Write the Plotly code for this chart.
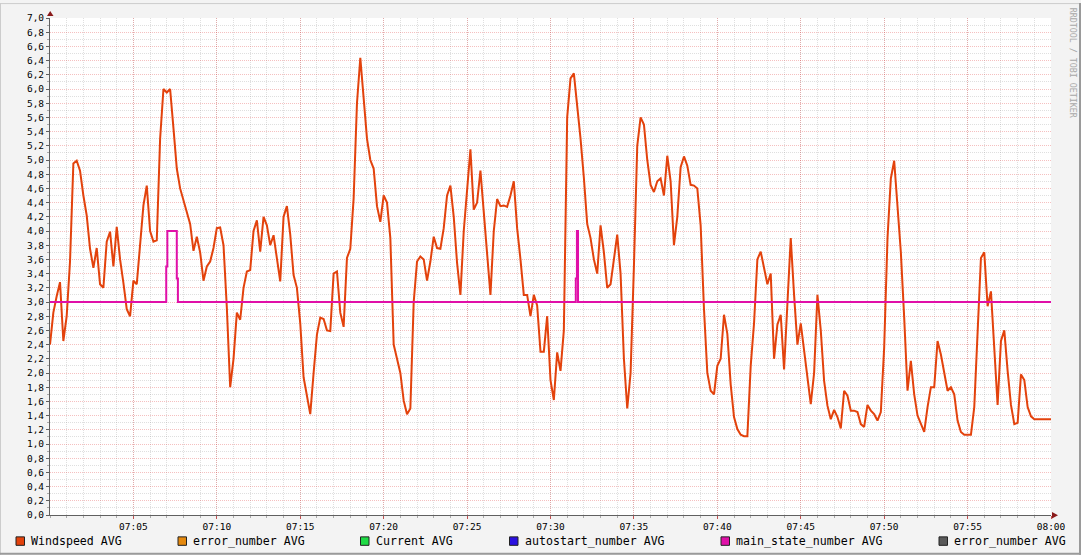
import pandas as pd
import plotly.graph_objects as go

# ---------------- data ----------------
wind_start = "2024-01-01 07:00:00"
wind_step = "12s"
windspeed = [
    2.40, 2.85, 3.08, 3.28, 2.45, 2.80, 3.57, 4.95, 4.99, 4.85,
    4.50, 4.22, 3.75, 3.48, 3.76, 3.25, 3.20, 3.85, 3.99, 3.50,
    4.06, 3.60, 3.27, 2.90, 2.80, 3.30, 3.25, 3.80, 4.36, 4.64,
    4.00, 3.85, 3.87, 5.30, 6.00, 5.95, 6.00, 5.45, 4.88, 4.60,
    4.43, 4.25, 4.10, 3.72, 3.92, 3.70, 3.30, 3.50, 3.57, 3.76,
    4.04, 4.05, 3.80, 2.92, 1.80, 2.20, 2.85, 2.75, 3.20, 3.43,
    3.45, 4.00, 4.15, 3.71, 4.20, 4.08, 3.80, 3.94, 3.60, 3.29,
    4.20, 4.35, 3.95, 3.38, 3.20, 2.70, 1.94, 1.65, 1.42, 2.00,
    2.54, 2.78, 2.76, 2.60, 2.59, 3.40, 3.43, 2.85, 2.65, 3.62,
    3.75, 4.46, 5.80, 6.44, 5.90, 5.30, 5.00, 4.88, 4.35, 4.13,
    4.50, 4.40, 3.90, 2.40, 2.20, 2.00, 1.61, 1.42, 1.50, 3.00,
    3.57, 3.64, 3.60, 3.30, 3.57, 3.92, 3.76, 3.75, 4.04, 4.50,
    4.64, 4.20, 3.55, 3.10, 4.00, 4.60, 5.15, 4.30, 4.40, 4.85,
    4.30, 3.70, 3.10, 4.00, 4.45, 4.35, 4.36, 4.34, 4.50, 4.70,
    4.04, 3.60, 3.10, 3.10, 2.80, 3.10, 2.95, 2.30, 2.30, 2.80,
    1.90, 1.62, 2.29, 2.03, 2.60, 5.60, 6.15, 6.22, 5.80, 5.30,
    4.75, 4.10, 3.90, 3.60, 3.40, 4.08, 3.70, 3.20, 3.25, 3.60,
    3.95, 3.40, 2.20, 1.50, 2.00, 3.50, 5.20, 5.60, 5.50, 5.00,
    4.65, 4.55, 4.70, 4.74, 4.50, 5.06, 4.70, 3.80, 4.20, 4.90,
    5.05, 4.92, 4.65, 4.64, 4.60, 4.08, 2.90, 2.00, 1.75, 1.70,
    2.10, 2.20, 2.82, 2.55, 1.84, 1.38, 1.21, 1.13, 1.11, 1.11,
    2.10, 2.70, 3.60, 3.71, 3.50, 3.25, 3.40, 2.20, 2.68, 2.82,
    2.05, 2.96, 3.90, 3.10, 2.40, 2.70, 2.31, 1.90, 1.56, 2.00,
    3.10, 2.60, 1.89, 1.54, 1.35, 1.48, 1.38, 1.22, 1.75, 1.68,
    1.47, 1.47, 1.45, 1.28, 1.24, 1.55, 1.47, 1.42, 1.33, 1.45,
    2.36, 3.90, 4.74, 4.99, 4.41, 3.70, 2.78, 1.75, 2.17, 1.70,
    1.40, 1.28, 1.17, 1.52, 1.80, 1.80, 2.45, 2.26, 2.03, 1.75,
    1.80, 1.70, 1.33, 1.17, 1.13, 1.13, 1.13, 1.52, 2.50, 3.62,
    3.70, 2.94, 3.15, 2.36, 1.55, 2.45, 2.60, 2.03, 1.55, 1.28,
    1.30, 1.98, 1.90, 1.52, 1.39, 1.35, 1.35, 1.35, 1.35, 1.35,
    1.35,
]
state_times = ["07:00:00", "07:06:58", "07:07:02", "07:07:36", "07:07:40",
               "07:31:31", "07:31:35", "07:31:39", "08:00:00"]
state_values = [3.0, 3.5, 4.0, 3.33, 3.0, 3.33, 4.0, 3.0, 3.0]

series_names = ["Windspeed AVG", "error_number AVG", "Current AVG",
                "autostart_number AVG", "main_state_number AVG", "error_number AVG"]
series_colors = ["#E3420C", "#E5890E", "#1FDB45", "#2A10E0", "#E010A8", "#5A5A5A"]

x_tick_labels = ["07:05", "07:10", "07:15", "07:20", "07:25", "07:30",
                 "07:35", "07:40", "07:45", "07:50", "07:55", "08:00"]
day = "2024-01-01 "
x_range = ["07:00:00", "08:00:00"]
y_range = [0, 7]

# ---------------- figure ----------------
W, H = 1081, 555
ML, MR, MT, MB = 50, 30, 15, 40
PW, PH = W - ML - MR, H - MT - MB


def px(xp):
    return (xp - ML) / PW


def py(yp):
    return (H - MB - yp) / PH


times = pd.date_range(wind_start, periods=len(windspeed), freq=wind_step)
state_x = [day + t for t in state_times]

fig = go.Figure()
fig.add_trace(go.Scatter(x=times, y=windspeed, mode="lines",
                         line=dict(color=series_colors[0], width=2, shape="linear"),
                         name=series_names[0], showlegend=False))
fig.add_trace(go.Scatter(x=state_x, y=state_values, mode="lines",
                         line=dict(color=series_colors[4], width=2, shape="hv"),
                         name=series_names[4], showlegend=False))

mono = "DejaVu Sans Mono"
major_grid = "rgba(225,60,60,0.32)"
minor_grid = "rgba(130,130,130,0.26)"

fig.update_layout(
    width=W, height=H, autosize=False,
    margin=dict(l=ML, r=MR, t=MT, b=MB, pad=0),
    paper_bgcolor="#F3F3F3", plot_bgcolor="#FFFFFF",
    separators=",.",
    showlegend=False,
    font=dict(family=mono, size=10, color="#000000"),
)
fig.update_xaxes(
    range=[day + x_range[0], day + x_range[1]],
    tickmode="array",
    tickvals=[day + t for t in x_tick_labels],
    ticktext=x_tick_labels,
    tickfont=dict(family=mono, size=9.5, color="#000000"),
    showgrid=True, gridcolor=major_grid, griddash="1px,1px", gridwidth=1,
    minor=dict(tickmode="linear", tick0=day + x_range[0], dtick=60000,
               showgrid=True, gridcolor=minor_grid, griddash="1px,1px",
               ticks="outside", ticklen=2, tickcolor="#AAAAAA"),
    ticks="outside", ticklen=3, tickcolor="#C05050",
    showline=True, linecolor="#606060", linewidth=1,
    zeroline=False, fixedrange=True,
)
fig.update_yaxes(
    range=y_range, tick0=0, dtick=0.2, tickformat=".1f",
    tickfont=dict(family=mono, size=9.5, color="#000000"),
    showgrid=True, gridcolor=major_grid, griddash="1px,1px", gridwidth=1,
    minor=dict(dtick=0.1, showgrid=True, gridcolor=minor_grid, griddash="1px,1px",
               ticks="outside", ticklen=2, tickcolor="#AAAAAA"),
    ticks="outside", ticklen=3, tickcolor="#606060",
    showline=True, linecolor="#606060", linewidth=1,
    zeroline=False, fixedrange=True,
)

shapes = []
# frame around the canvas
shapes.append(dict(type="line", xref="paper", yref="paper",
                   x0=px(0.5), x1=px(0.5), y0=py(0), y1=py(H),
                   line=dict(color="#CCCCCC", width=1)))
shapes.append(dict(type="line", xref="paper", yref="paper",
                   x0=px(0), x1=px(W), y0=py(0.5), y1=py(0.5),
                   line=dict(color="#CCCCCC", width=1)))
shapes.append(dict(type="line", xref="paper", yref="paper",
                   x0=px(W - 1), x1=px(W - 1), y0=py(0), y1=py(H),
                   line=dict(color="#9A9A9A", width=2)))
shapes.append(dict(type="line", xref="paper", yref="paper",
                   x0=px(0), x1=px(W), y0=py(H - 1), y1=py(H - 1),
                   line=dict(color="#9A9A9A", width=2)))
# axis arrows
shapes.append(dict(type="path", xref="paper", yref="paper",
                   path=f"M {px(47)} {py(13)} L {px(53.5)} {py(13)} L {px(50.2)} {py(8)} Z",
                   fillcolor="#8A1A1A", line=dict(width=0)))
shapes.append(dict(type="path", xref="paper", yref="paper",
                   path=f"M {px(1052)} {py(512)} L {px(1052)} {py(518.5)} L {px(1058)} {py(515.2)} Z",
                   fillcolor="#8A1A1A", line=dict(width=0)))

annotations = []
legend_left = [16, 178, 360.5, 509.5, 721, 939]
for name, color, lx in zip(series_names, series_colors, legend_left):
    shapes.append(dict(type="rect", xref="paper", yref="paper",
                       x0=px(lx), x1=px(lx + 8.5), y0=py(537), y1=py(545.5),
                       fillcolor=color, line=dict(color="#222222", width=1)))
    annotations.append(dict(x=px(lx + 13), y=py(541.5), xref="paper", yref="paper",
                            text=name, showarrow=False, xanchor="left", yanchor="middle",
                            font=dict(family=mono, size=11.6, color="#000000")))

annotations.append(dict(x=px(1073), y=py(60), xref="paper", yref="paper",
                        text="RRDTOOL / TOBI OETIKER", textangle=90, showarrow=False,
                        xanchor="center", yanchor="middle",
                        font=dict(family=mono, size=8.3, color="#A8A8A8")))

fig.update_layout(shapes=shapes, annotations=annotations)
fig.write_html("out.html", config={"displayModeBar": False},
               post_script="document.body.style.margin='0';document.body.style.overflow='hidden';")
